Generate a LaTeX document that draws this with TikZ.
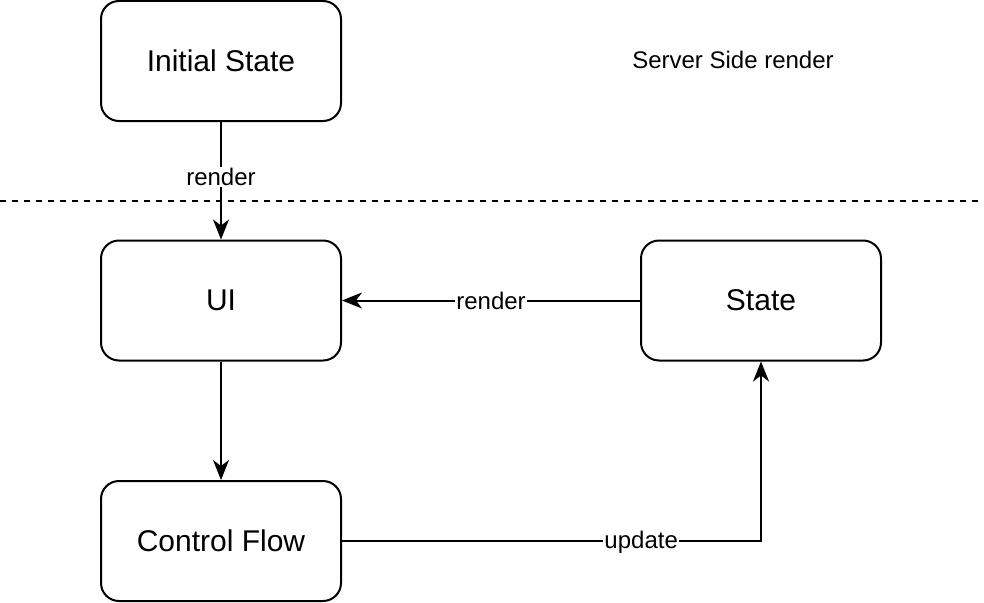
\documentclass[tikz,border=0pt]{standalone}
\usepackage{fontspec}
\setmainfont{Liberation Sans}
\usetikzlibrary{arrows.meta}
\begin{document}
\begin{tikzpicture}[x=1pt,y=-1pt,
  box/.style={draw, line width=2pt, rounded corners=18pt, minimum width=240pt, minimum height=120pt, inner sep=0pt, font=\fontsize{30}{36}\selectfont},
  conn/.style={line width=2pt, -{Stealth[length=20pt,width=16pt,inset=6pt]}},
  lbl/.style={fill=white, inner sep=1pt, font=\fontsize{24}{28}\selectfont}
]
\useasboundingbox (0,0) rectangle (984,602);
\node[box] (init) at (221,61) {Initial State};
\node[box] (ui) at (221,300.5) {UI};
\node[box] (cf) at (221,541) {Control Flow};
\node[box] (st) at (761,300.5) {State};
\node[font=\fontsize{24}{28}\selectfont] (ssr) at (733,60) {Server Side render};
\coordinate (dl) at (0,201);
\coordinate (dr) at (984,201);
\draw[line width=2pt, dash pattern=on 6pt off 6pt] (dl) -- (dr);
\draw[conn] (init) -- node[lbl, pos=0.47] {render} (ui);
\draw[conn] (ui) -- (cf);
\draw[conn] (st) -- node[lbl] {render} (ui);
\coordinate (corner) at (761,541);
\draw[conn] (cf.east) -- node[lbl, pos=0.714, yshift=-1pt] {update} (corner) -- (st.south);
\end{tikzpicture}
\end{document}
